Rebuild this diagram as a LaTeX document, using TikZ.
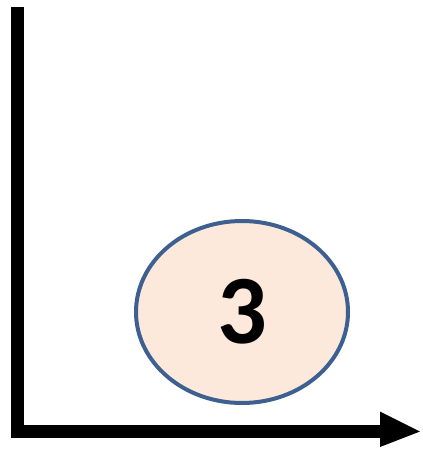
\documentclass[tikz,border=0pt]{standalone}
\usepackage{fontspec}
\setmainfont{Carlito}
\definecolor{ellfill}{HTML}{FCE9DB}
\definecolor{ellline}{HTML}{3E6090}
\tikzset{
  axis/.style={line width=13pt, line join=miter, black},
  bubble/.style={ellipse, draw=ellline, line width=4pt, fill=ellfill,
    minimum width=212pt, minimum height=182pt, inner sep=0pt,
    font=\fontsize{98}{98}\selectfont\bfseries}
}
\usetikzlibrary{shapes.geometric}
\begin{document}
\begin{tikzpicture}[x=1pt,y=-1pt]
\useasboundingbox (0,0) rectangle (423,461);
\coordinate (top) at (17.5,7);
\coordinate (corner) at (17.5,431.5);
\coordinate (shaftend) at (381,431.5);
\draw[axis] (top) -- (corner) -- (shaftend);
\fill (380,411.5) -- (420,431.5) -- (380,447) -- cycle;
\node[bubble] (n3) at (242,312) {3};
\end{tikzpicture}
\end{document}
